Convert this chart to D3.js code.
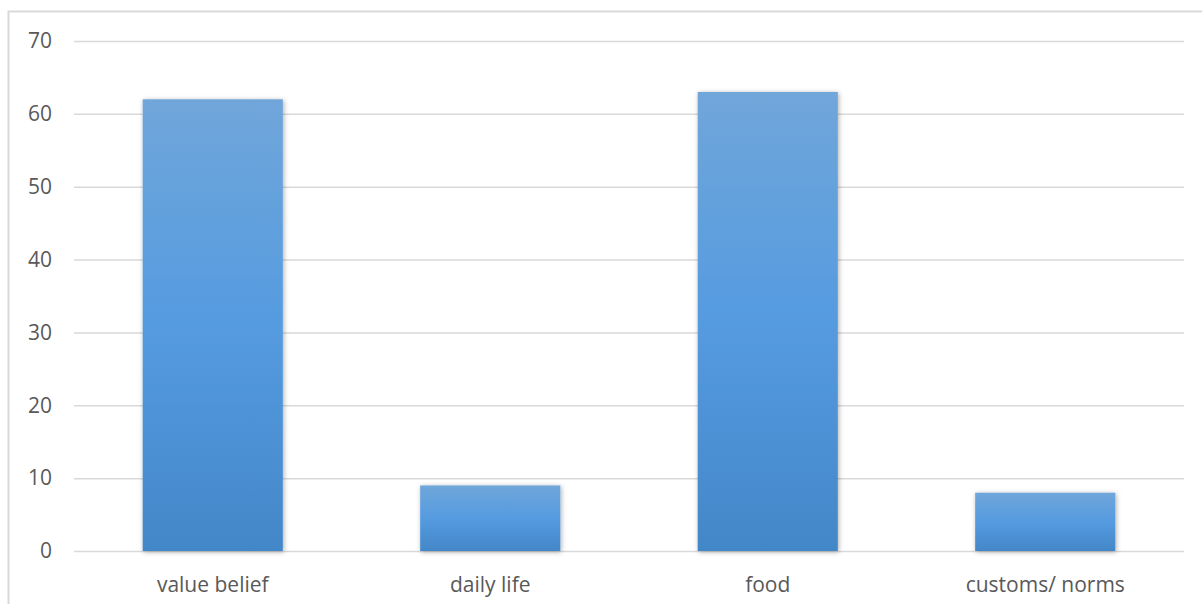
<!DOCTYPE html>
<html>
<head>
<meta charset="utf-8">
<script src="https://cdn.jsdelivr.net/npm/d3@7"></script>
<style>
  html, body { margin: 0; padding: 0; background: #fff; }
  svg { display: block; }
</style>
</head>
<body>
<svg id="chart" width="1202" height="604"></svg>
<script>
// Topic counts per category
const categories = ["value belief", "daily life", "food", "customs/ norms"];
const counts = [62, 9, 63, 8];
const yTicks = [0, 10, 20, 30, 40, 50, 60, 70];

const W = 1202, H = 604;
const plot = { left: 74, right: 1184, top: 41, bottom: 551 };
const FONT = "'Open Sans', 'Liberation Sans', sans-serif";

const svg = d3.select("#chart");
const defs = svg.append("defs");

// Vertical blue gradient for the bars
const grad = defs.append("linearGradient")
  .attr("id", "barFill").attr("x1", 0).attr("y1", 0).attr("x2", 0).attr("y2", 1);
grad.append("stop").attr("offset", "0%").attr("stop-color", "#70a6da");
grad.append("stop").attr("offset", "50%").attr("stop-color", "#559be0");
grad.append("stop").attr("offset", "100%").attr("stop-color", "#4387c8");

// Soft shadow around each bar
const shadow = defs.append("filter").attr("id", "barShadow")
  .attr("x", "-10%").attr("y", "-10%").attr("width", "120%").attr("height", "120%");
shadow.append("feDropShadow")
  .attr("dx", 1).attr("dy", 1).attr("stdDeviation", 2.4)
  .attr("flood-color", "#000").attr("flood-opacity", 0.32);

// Chart frame
svg.append("path")
  .attr("d", `M8.5,${H} V11.5 H${W}`)
  .attr("fill", "none").attr("stroke", "#d9d9d9").attr("stroke-width", 2);

const x = d3.scaleBand()
  .domain(categories)
  .range([plot.left, plot.right])
  .paddingInner(0.495)
  .paddingOuter(0.2475);

const y = d3.scaleLinear()
  .domain([0, 70])
  .range([plot.bottom, plot.top]);

// Horizontal gridlines with tick labels
const yAxis = d3.axisLeft(y)
  .tickValues(yTicks)
  .tickSize(-(plot.right - plot.left))
  .tickPadding(22)
  .tickFormat(d3.format("d"));

const gy = svg.append("g")
  .attr("transform", `translate(${plot.left},0)`)
  .call(yAxis);
gy.select(".domain").remove();
gy.selectAll(".tick line").attr("stroke", "#d9d9d9").attr("stroke-width", 1.5);
gy.selectAll(".tick text")
  .attr("fill", "#595959")
  .style("font-family", FONT)
  .style("font-size", "21px");

// Bars
svg.append("g").selectAll("rect")
  .data(categories.map((c, i) => ({ c, v: counts[i] })))
  .join("rect")
  .attr("x", d => x(d.c))
  .attr("y", d => y(d.v))
  .attr("width", x.bandwidth())
  .attr("height", d => y(0) - y(d.v))
  .attr("fill", "url(#barFill)")
  .attr("filter", "url(#barShadow)");

// Category axis labels
const xAxis = d3.axisBottom(x).tickSize(0).tickPadding(26);
const gx = svg.append("g")
  .attr("transform", `translate(0,${plot.bottom})`)
  .call(xAxis);
gx.select(".domain").remove();
gx.selectAll(".tick text")
  .attr("fill", "#595959")
  .style("font-family", FONT)
  .style("font-size", "21px");
</script>
</body>
</html>
